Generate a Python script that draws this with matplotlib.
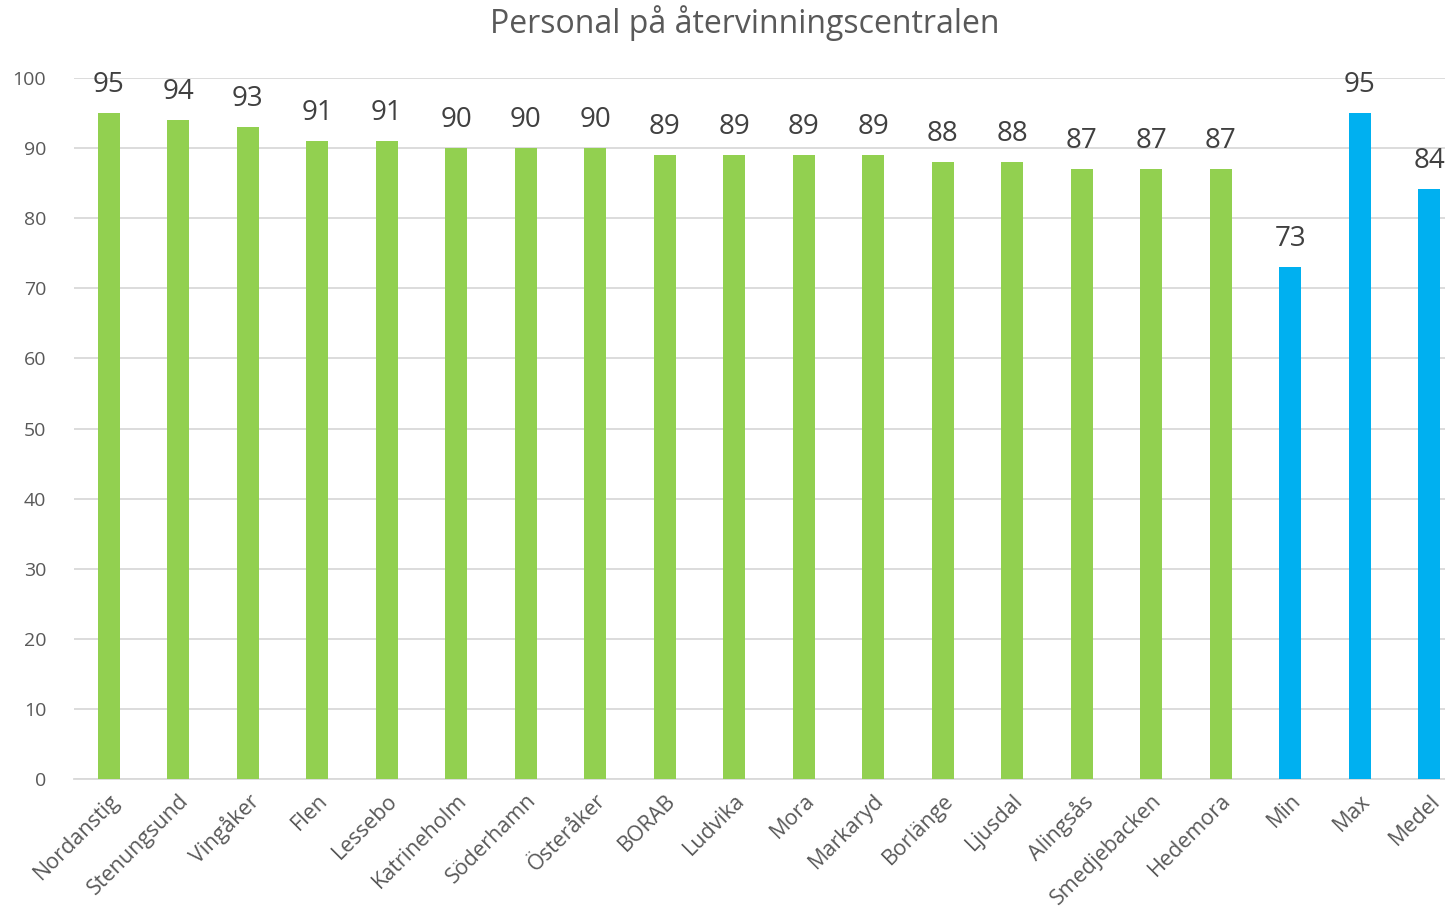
import matplotlib.pyplot as plt

plt.rcParams['font.family'] = ['Open Sans', 'DejaVu Sans']

kommuner = ["Nordanstig", "Stenungsund", "Vingåker", "Flen", "Lessebo", "Katrineholm",
            "Söderhamn", "Österåker", "BORAB", "Ludvika", "Mora", "Markaryd", "Borlänge",
            "Ljusdal", "Alingsås", "Smedjebacken", "Hedemora", "Min", "Max", "Medel"]
varden = [95, 94, 93, 91, 91, 90, 90, 90, 89, 89, 89, 89, 88, 88, 87, 87, 87, 73, 95, 84.2]
etiketter = ["95", "94", "93", "91", "91", "90", "90", "90", "89", "89", "89", "89", "88",
             "88", "87", "87", "87", "73", "95", "84"]

gron = "#92D050"
bla = "#00B0F0"
farger = [bla if k in ("Min", "Max", "Medel") else gron for k in kommuner]
textfarg = "#595959"

fig = plt.figure(figsize=(14.45, 9.11), dpi=100)
ax = fig.add_axes([74 / 1445, 132 / 911, 1390 / 1445, 701 / 911])

x = list(range(len(kommuner)))
staplar = ax.bar(x, varden, width=0.32, color=farger, zorder=3)
for s, txt in zip(staplar, etiketter):
    ax.text(s.get_x() + s.get_width() / 2, s.get_height() + 2.0, txt,
            ha="center", va="bottom", fontsize=20, color="#404040")

ax.set_xlim(-0.5, len(kommuner) - 0.5)
ax.set_ylim(0, 100)
ax.set_yticks(range(0, 101, 10))
ax.yaxis.grid(True, color="#D9D9D9", linewidth=1.3, zorder=0)
ax.set_xticks(x)
ax.set_xticklabels(kommuner, rotation=45, ha="right", rotation_mode="anchor",
                   fontsize=15.5, color=textfarg)
ax.tick_params(axis="x", length=0, pad=8)
ax.tick_params(axis="y", length=0, labelsize=14, labelcolor=textfarg, pad=20)
for sida in ["top", "right", "left"]:
    ax.spines[sida].set_visible(False)
ax.spines["bottom"].set_color("#D9D9D9")
ax.spines["bottom"].set_linewidth(1.3)

fig.text(745 / 1445, 0.975, "Personal på återvinningscentralen", ha="center", va="center",
         fontsize=23, color=textfarg)

fig.savefig("out.png", dpi=100)
